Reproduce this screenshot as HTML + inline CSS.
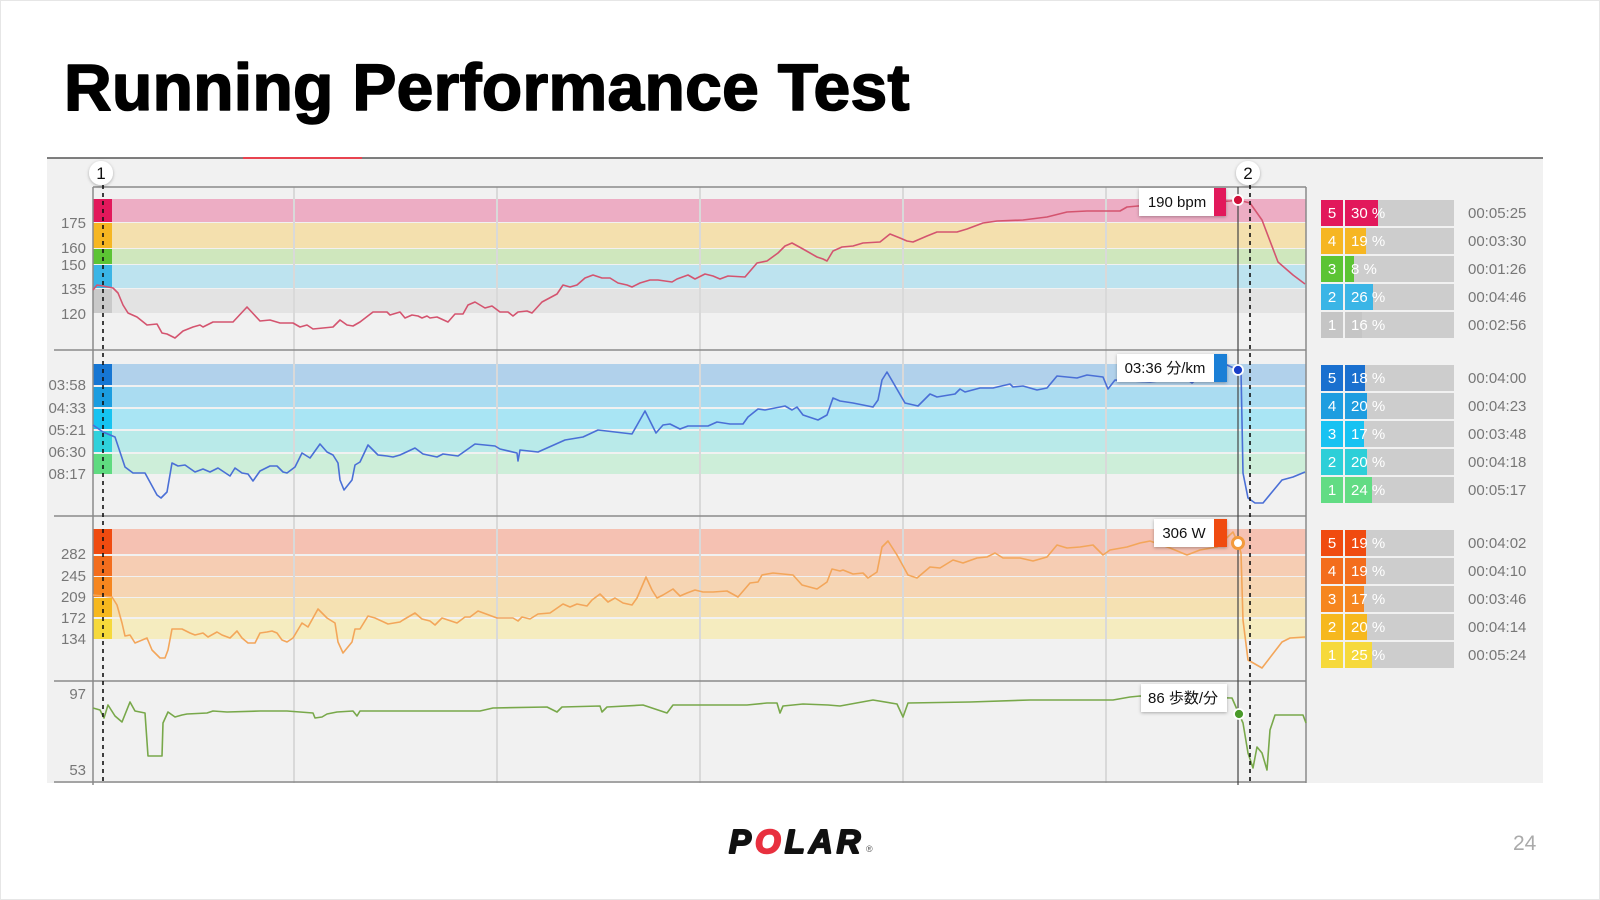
<!DOCTYPE html>
<html>
<head>
<meta charset="utf-8">
<style>
  html,body{margin:0;padding:0;background:#fff;}
  svg{display:block;}
  text{font-family:"Liberation Sans","Noto Sans CJK JP",sans-serif;}
</style>
</head>
<body>
<svg width="1600" height="900" viewBox="0 0 1600 900" xmlns="http://www.w3.org/2000/svg">
  <defs>
    <filter id="sh" x="-20%" y="-40%" width="140%" height="180%">
      <feDropShadow dx="0" dy="1" stdDeviation="1.5" flood-color="#000" flood-opacity="0.3"/>
    </filter>
  </defs>
  <rect x="0" y="0" width="1600" height="900" fill="#fff"/>
  <rect x="0.5" y="0.5" width="1599" height="899" fill="none" stroke="#e6e6e6" stroke-width="1"/>

  <!-- Title -->
  <text x="64" y="110" font-size="66" font-weight="bold" letter-spacing="0.3" fill="#000" stroke="#000" stroke-width="1.6" stroke-linejoin="round">Running Performance Test</text>

  <!-- Panel background -->
  <rect x="47" y="158" width="1496" height="625" fill="#f1f1f1"/>
  <line x1="47" y1="158" x2="1543" y2="158" stroke="#555" stroke-width="1.5"/>
  <line x1="243" y1="158" x2="362" y2="158" stroke="#e8434f" stroke-width="2"/>

  <!-- HR bands -->
  <g>
    <rect x="93" y="199" width="1213" height="23" fill="#edadc4"/>
    <rect x="93" y="223" width="1213" height="25" fill="#f4e0ae"/>
    <rect x="93" y="249" width="1213" height="15" fill="#cfe7bd"/>
    <rect x="93" y="265" width="1213" height="23" fill="#bde3ef"/>
    <rect x="93" y="289" width="1213" height="24" fill="#e3e3e3"/>
    <rect x="93" y="199" width="19" height="23" fill="#e2185b"/>
    <rect x="93" y="223" width="19" height="25" fill="#f6b622"/>
    <rect x="93" y="249" width="19" height="15" fill="#5cc434"/>
    <rect x="93" y="265" width="19" height="23" fill="#3ab5e6"/>
    <rect x="93" y="289" width="19" height="24" fill="#c9c9c9"/>
  </g>
  <!-- Pace bands -->
  <g>
    <rect x="93" y="364" width="1213" height="21" fill="#b1d1eb"/>
    <rect x="93" y="387" width="1213" height="20" fill="#aadcf1"/>
    <rect x="93" y="409" width="1213" height="20" fill="#a9e5f4"/>
    <rect x="93" y="431" width="1213" height="21" fill="#b9eae9"/>
    <rect x="93" y="454" width="1213" height="20" fill="#cdeed9"/>
    <rect x="93" y="364" width="19" height="21" fill="#1676d3"/>
    <rect x="93" y="387" width="19" height="20" fill="#1b9de0"/>
    <rect x="93" y="409" width="19" height="20" fill="#16c3f1"/>
    <rect x="93" y="431" width="19" height="21" fill="#2fd1db"/>
    <rect x="93" y="454" width="19" height="20" fill="#5fdb80"/>
  </g>
  <!-- Power bands -->
  <g>
    <rect x="93" y="529" width="1213" height="25" fill="#f5c1b2"/>
    <rect x="93" y="556" width="1213" height="20" fill="#f6cdb3"/>
    <rect x="93" y="577" width="1213" height="20" fill="#f6d5b3"/>
    <rect x="93" y="598" width="1213" height="19" fill="#f5e1b2"/>
    <rect x="93" y="619" width="1213" height="20" fill="#f5ecbf"/>
    <rect x="93" y="529" width="19" height="25" fill="#f04b10"/>
    <rect x="93" y="556" width="19" height="20" fill="#f36d1d"/>
    <rect x="93" y="577" width="19" height="20" fill="#f6861f"/>
    <rect x="93" y="598" width="19" height="19" fill="#f6b81e"/>
    <rect x="93" y="619" width="19" height="20" fill="#f6d93b"/>
  </g>

  <!-- Grid lines -->
  <g stroke="#d9d9d9" stroke-width="2">
    <line x1="294" y1="187" x2="294" y2="783"/>
    <line x1="497" y1="187" x2="497" y2="783"/>
    <line x1="700" y1="187" x2="700" y2="783"/>
    <line x1="903" y1="187" x2="903" y2="783"/>
    <line x1="1106" y1="187" x2="1106" y2="783"/>
  </g>

  <!-- Frame & dividers -->
  <g stroke="#8a8a8a" stroke-width="1.5" fill="none">
    <line x1="93" y1="187" x2="1306" y2="187"/>
    <line x1="93" y1="187" x2="93" y2="785"/>
    <line x1="1306" y1="187" x2="1306" y2="783"/>
    <line x1="54" y1="350" x2="1306" y2="350"/>
    <line x1="54" y1="516" x2="1306" y2="516"/>
    <line x1="54" y1="681" x2="1306" y2="681"/>
    <line x1="54" y1="782" x2="1306" y2="782"/>
  </g>

  <!-- Y labels -->
  <g font-size="15" fill="#777" text-anchor="end">
    <text x="86" y="228">175</text>
    <text x="86" y="253">160</text>
    <text x="86" y="270">150</text>
    <text x="86" y="294">135</text>
    <text x="86" y="319">120</text>
    <text x="86" y="390">03:58</text>
    <text x="86" y="413">04:33</text>
    <text x="86" y="435">05:21</text>
    <text x="86" y="457">06:30</text>
    <text x="86" y="479">08:17</text>
    <text x="86" y="559">282</text>
    <text x="86" y="581">245</text>
    <text x="86" y="602">209</text>
    <text x="86" y="623">172</text>
    <text x="86" y="644">134</text>
    <text x="86" y="699">97</text>
    <text x="86" y="775">53</text>
  </g>

  <!-- Series -->
  <g fill="none" stroke-width="1.6" stroke-linejoin="round">
    <polyline stroke="#d4546f" points="93,290 97,285 103,286 113,288 118,293 123,305 128,313 137,317 147,325 157,324 162,333 167,334 175,338 183,331 193,327 200,325 203,327 213,322 233,322 247,307 260,321 270,320 280,323 293,323 300,327 307,325 313,329 333,327 340,320 347,325 353,326 360,322 373,312 387,312 390,315 400,312 405,318 412,315 418,316 422,318 427,316 430,318 437,317 448,322 455,314 463,314 468,305 475,302 485,308 492,306 500,312 508,312 513,316 518,312 527,311 532,313 542,302 557,294 563,285 570,287 577,285 585,278 593,275 602,278 610,278 618,283 627,285 632,287 640,283 650,280 658,280 672,282 677,279 688,275 695,279 705,274 713,276 720,279 728,276 745,277 757,263 767,261 778,253 785,246 792,243 803,249 817,257 823,259 827,261 833,251 842,247 853,246 863,243 880,242 890,234 900,238 907,241 913,242 927,236 937,232 957,232 967,229 983,223 997,221 1023,220 1047,217 1067,212 1087,211 1107,211 1120,211 1127,207 1138,206 1160,205 1200,203 1230,201 1238,200 1250,203 1262,220 1278,262 1293,275 1305,284"/>
    <polyline stroke="#4a6fd6" points="93,425 103,432 115,437 125,467 133,473 145,473 157,495 161,498 167,492 172,463 178,466 185,465 195,472 203,469 210,472 218,468 230,476 235,468 242,473 248,474 253,481 260,471 270,466 277,466 283,472 287,473 295,467 302,453 310,458 320,444 327,452 333,455 338,463 340,480 344,490 352,480 355,465 360,462 368,445 378,455 387,456 393,457 400,455 415,448 423,454 437,457 443,454 458,456 475,444 495,446 500,449 517,453 518,461 520,450 538,452 565,440 583,437 598,430 632,434 645,411 656,433 663,425 670,424 680,429 688,426 708,426 717,422 730,424 743,424 748,417 758,409 765,410 785,406 792,410 797,407 803,415 818,420 827,415 833,398 840,401 853,403 863,405 873,407 878,400 882,380 887,372 905,403 918,406 930,394 937,397 955,394 960,389 965,392 980,388 993,388 1010,384 1013,387 1023,386 1037,390 1047,388 1057,376 1077,378 1087,375 1103,377 1108,389 1115,380 1150,382 1185,378 1192,383 1200,376 1215,368 1227,365 1238,370 1241,370 1243,473 1248,498 1255,503 1263,503 1282,480 1293,477 1305,472"/>
    <polyline stroke="#f3a65a" points="93,595 112,597 117,605 122,623 125,636 130,635 135,643 147,638 152,650 160,658 165,658 168,650 172,629 182,629 190,633 195,635 203,633 208,637 217,632 222,635 230,638 237,631 242,638 248,643 255,643 260,633 267,632 272,631 277,633 282,640 287,642 293,638 302,623 308,627 318,609 327,618 335,623 338,642 343,653 352,642 355,629 360,629 368,616 375,618 388,624 400,622 403,620 415,613 422,619 430,621 435,625 442,618 457,623 465,617 470,617 478,611 497,618 513,618 518,621 522,617 530,619 538,614 550,613 563,604 570,607 577,604 587,606 592,600 600,594 608,602 615,598 623,603 632,605 637,598 646,577 652,590 657,598 663,595 673,589 680,596 687,593 695,590 703,592 713,592 727,591 738,597 750,583 758,582 762,575 773,573 793,575 802,585 817,589 827,582 832,569 840,571 843,570 853,574 863,573 868,578 877,572 882,547 888,541 897,555 908,575 917,578 930,567 940,568 953,560 963,563 977,558 987,557 995,553 1003,558 1020,558 1033,561 1047,557 1057,545 1067,548 1080,547 1093,545 1103,555 1110,550 1127,547 1140,543 1150,541 1170,548 1187,555 1200,550 1217,547 1233,532 1238,543 1241,553 1243,620 1248,660 1262,668 1282,642 1290,638 1305,637"/>
    <polyline stroke="#78a84a" points="93,708 100,710 104,718 108,705 115,716 122,722 130,702 135,711 145,713 148,756 162,756 163,723 168,712 175,717 182,715 187,714 207,713 213,711 227,712 260,711 287,711 313,713 315,718 322,717 327,714 337,712 353,711 357,716 360,711 400,711 480,711 493,708 547,707 557,712 562,707 600,706 602,712 607,707 643,705 667,713 673,705 747,705 767,703 777,703 780,713 783,706 803,704 828,705 840,706 873,700 897,704 903,717 908,703 970,702 1030,700 1113,700 1130,697 1140,696 1232,698 1239,714 1243,723 1248,753 1253,768 1257,747 1262,753 1267,770 1270,730 1275,715 1303,715 1306,723"/>
  </g>

  <!-- Marker lines -->
  <line x1="1238" y1="187" x2="1238" y2="785" stroke="#444" stroke-width="1.2"/>
  <g stroke="#111" stroke-width="1.6" stroke-dasharray="4,4">
    <line x1="103" y1="185" x2="103" y2="785"/>
    <line x1="1250" y1="185" x2="1250" y2="785"/>
  </g>
  <g filter="url(#sh)">
    <circle cx="101" cy="173" r="12" fill="#fff"/>
    <circle cx="1248" cy="173" r="12" fill="#fff"/>
  </g>
  <text x="101" y="179" font-size="17" text-anchor="middle" fill="#111">1</text>
  <text x="1248" y="179" font-size="17" text-anchor="middle" fill="#111">2</text>

  <!-- Tooltips -->
  <g filter="url(#sh)">
    <rect x="1139" y="188" width="87" height="28" fill="#fff"/>
    <rect x="1117" y="354" width="110" height="28" fill="#fff"/>
    <rect x="1154" y="519" width="73" height="28" fill="#fff"/>
    <rect x="1141" y="684" width="86" height="28" fill="#fff"/>
  </g>
  <rect x="1214" y="188" width="12" height="28" fill="#e2185b"/>
  <rect x="1214" y="354" width="13" height="28" fill="#1a7fd6"/>
  <rect x="1214" y="519" width="13" height="28" fill="#f04b10"/>
  <g font-size="15" fill="#111" text-anchor="middle">
    <text x="1177" y="207">190 bpm</text>
    <text x="1165" y="373">03:36 分/km</text>
    <text x="1184" y="538">306 W</text>
    <text x="1183" y="703">86 歩数/分</text>
  </g>

  <!-- Dots -->
  <circle cx="1238" cy="200" r="5" fill="#d0103a" stroke="#fff" stroke-width="1.8"/>
  <circle cx="1238" cy="370" r="5" fill="#1a3fc8" stroke="#fff" stroke-width="1.8"/>
  <circle cx="1238" cy="543" r="5.5" fill="#fff" stroke="#f39a3c" stroke-width="3"/>
  <circle cx="1239" cy="714" r="5" fill="#4a9a2a" stroke="#fff" stroke-width="1.8"/>

  <!-- Legends -->
  <g font-size="15">
    <!-- HR -->
    <g>
      <rect x="1321" y="200" width="22" height="26" fill="#e2185b"/><rect x="1345" y="200" width="109" height="26" fill="#cdcdcd"/><rect x="1345" y="200" width="33" height="26" fill="#e2185b"/>
      <rect x="1321" y="228" width="22" height="26" fill="#f6b622"/><rect x="1345" y="228" width="109" height="26" fill="#cdcdcd"/><rect x="1345" y="228" width="21" height="26" fill="#f6b622"/>
      <rect x="1321" y="256" width="22" height="26" fill="#5cc434"/><rect x="1345" y="256" width="109" height="26" fill="#cdcdcd"/><rect x="1345" y="256" width="9" height="26" fill="#5cc434"/>
      <rect x="1321" y="284" width="22" height="26" fill="#3ab5e6"/><rect x="1345" y="284" width="109" height="26" fill="#cdcdcd"/><rect x="1345" y="284" width="28" height="26" fill="#3ab5e6"/>
      <rect x="1321" y="312" width="22" height="26" fill="#c5c5c5"/><rect x="1345" y="312" width="109" height="26" fill="#cdcdcd"/><rect x="1345" y="312" width="17" height="26" fill="#c5c5c5"/>
      <g fill="#fff">
        <text x="1332" y="218" text-anchor="middle">5</text><text x="1351" y="218">30 %</text>
        <text x="1332" y="246" text-anchor="middle">4</text><text x="1351" y="246">19 %</text>
        <text x="1332" y="274" text-anchor="middle">3</text><text x="1351" y="274">8 %</text>
        <text x="1332" y="302" text-anchor="middle">2</text><text x="1351" y="302">26 %</text>
        <text x="1332" y="330" text-anchor="middle">1</text><text x="1351" y="330">16 %</text>
      </g>
      <g fill="#777">
        <text x="1468" y="218">00:05:25</text>
        <text x="1468" y="246">00:03:30</text>
        <text x="1468" y="274">00:01:26</text>
        <text x="1468" y="302">00:04:46</text>
        <text x="1468" y="330">00:02:56</text>
      </g>
    </g>
    <!-- Pace -->
    <g>
      <rect x="1321" y="365" width="22" height="26" fill="#1a70cf"/><rect x="1345" y="365" width="109" height="26" fill="#cdcdcd"/><rect x="1345" y="365" width="20" height="26" fill="#1a70cf"/>
      <rect x="1321" y="393" width="22" height="26" fill="#1e9de0"/><rect x="1345" y="393" width="109" height="26" fill="#cdcdcd"/><rect x="1345" y="393" width="22" height="26" fill="#1e9de0"/>
      <rect x="1321" y="421" width="22" height="26" fill="#17c2f2"/><rect x="1345" y="421" width="109" height="26" fill="#cdcdcd"/><rect x="1345" y="421" width="19" height="26" fill="#17c2f2"/>
      <rect x="1321" y="449" width="22" height="26" fill="#2dcfd8"/><rect x="1345" y="449" width="109" height="26" fill="#cdcdcd"/><rect x="1345" y="449" width="22" height="26" fill="#2dcfd8"/>
      <rect x="1321" y="477" width="22" height="26" fill="#62dc84"/><rect x="1345" y="477" width="109" height="26" fill="#cdcdcd"/><rect x="1345" y="477" width="27" height="26" fill="#62dc84"/>
      <g fill="#fff">
        <text x="1332" y="383" text-anchor="middle">5</text><text x="1351" y="383">18 %</text>
        <text x="1332" y="411" text-anchor="middle">4</text><text x="1351" y="411">20 %</text>
        <text x="1332" y="439" text-anchor="middle">3</text><text x="1351" y="439">17 %</text>
        <text x="1332" y="467" text-anchor="middle">2</text><text x="1351" y="467">20 %</text>
        <text x="1332" y="495" text-anchor="middle">1</text><text x="1351" y="495">24 %</text>
      </g>
      <g fill="#777">
        <text x="1468" y="383">00:04:00</text>
        <text x="1468" y="411">00:04:23</text>
        <text x="1468" y="439">00:03:48</text>
        <text x="1468" y="467">00:04:18</text>
        <text x="1468" y="495">00:05:17</text>
      </g>
    </g>
    <!-- Power -->
    <g>
      <rect x="1321" y="530" width="22" height="26" fill="#f04b10"/><rect x="1345" y="530" width="109" height="26" fill="#cdcdcd"/><rect x="1345" y="530" width="21" height="26" fill="#f04b10"/>
      <rect x="1321" y="558" width="22" height="26" fill="#f36d1d"/><rect x="1345" y="558" width="109" height="26" fill="#cdcdcd"/><rect x="1345" y="558" width="21" height="26" fill="#f36d1d"/>
      <rect x="1321" y="586" width="22" height="26" fill="#f6861f"/><rect x="1345" y="586" width="109" height="26" fill="#cdcdcd"/><rect x="1345" y="586" width="19" height="26" fill="#f6861f"/>
      <rect x="1321" y="614" width="22" height="26" fill="#f6b81e"/><rect x="1345" y="614" width="109" height="26" fill="#cdcdcd"/><rect x="1345" y="614" width="22" height="26" fill="#f6b81e"/>
      <rect x="1321" y="642" width="22" height="26" fill="#f6d93b"/><rect x="1345" y="642" width="109" height="26" fill="#cdcdcd"/><rect x="1345" y="642" width="27" height="26" fill="#f6d93b"/>
      <g fill="#fff">
        <text x="1332" y="548" text-anchor="middle">5</text><text x="1351" y="548">19 %</text>
        <text x="1332" y="576" text-anchor="middle">4</text><text x="1351" y="576">19 %</text>
        <text x="1332" y="604" text-anchor="middle">3</text><text x="1351" y="604">17 %</text>
        <text x="1332" y="632" text-anchor="middle">2</text><text x="1351" y="632">20 %</text>
        <text x="1332" y="660" text-anchor="middle">1</text><text x="1351" y="660">25 %</text>
      </g>
      <g fill="#777">
        <text x="1468" y="548">00:04:02</text>
        <text x="1468" y="576">00:04:10</text>
        <text x="1468" y="604">00:03:46</text>
        <text x="1468" y="632">00:04:14</text>
        <text x="1468" y="660">00:05:24</text>
      </g>
    </g>
  </g>

  <!-- Logo -->
  <text x="729" y="853" font-size="33" font-weight="bold" font-style="italic" letter-spacing="4" fill="#111" stroke="#111" stroke-width="2" stroke-linejoin="round">P<tspan fill="#e8303f" stroke="#e8303f">O</tspan>LAR</text>
  <text x="866" y="852" font-size="9" fill="#555">®</text>

  <!-- Page number -->
  <text x="1513" y="850" font-size="21" fill="#aaa">24</text>
</svg>
</body>
</html>
